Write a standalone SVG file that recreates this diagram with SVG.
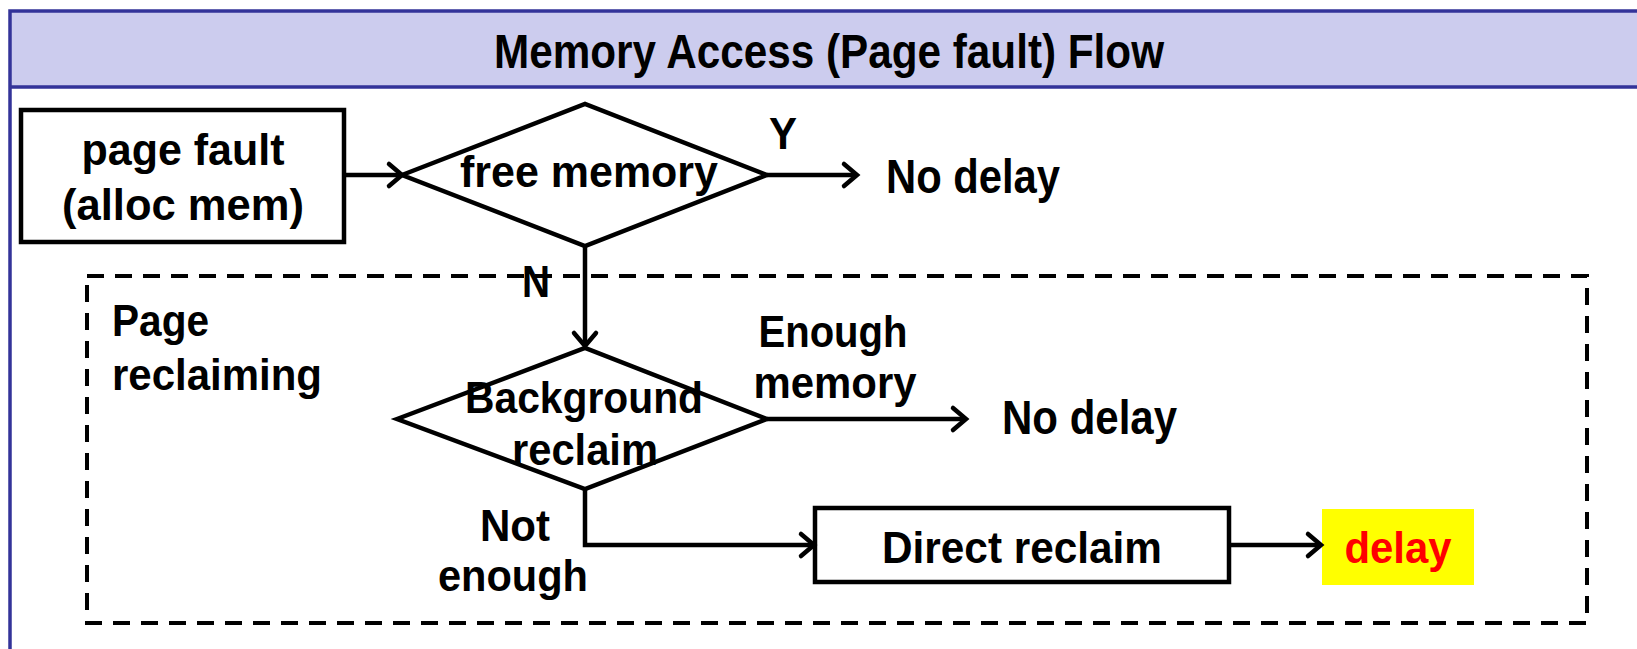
<svg xmlns="http://www.w3.org/2000/svg" width="1637" height="649" viewBox="0 0 1637 649">
<defs>
<style>
text{font-family:"Liberation Sans",Arial,sans-serif;font-weight:bold;fill:#000;}
.t{font-size:44px;}
.big{font-size:48px;}
.ln{fill:none;stroke:#000;stroke-width:4.5;stroke-linejoin:miter;}
.ah{fill:none;stroke:#000;stroke-width:4.5;stroke-linecap:round;stroke-linejoin:miter;}
</style>
</defs>
<rect width="1637" height="649" fill="#fff"/>
<g id="frame">
<rect x="10" y="11" width="1640" height="76" fill="#ccccee"/>
<path d="M10,649 V11 H1650 M10,87 H1650" fill="none" stroke="#333399" stroke-width="3.5"/>
<text class="big" x="829" y="68" text-anchor="middle" textLength="670" lengthAdjust="spacingAndGlyphs">Memory Access (Page fault) Flow</text>
</g>
<g id="page-reclaiming">
<rect x="87" y="276" width="1500" height="347" fill="none" stroke="#000" stroke-width="4" stroke-dasharray="17 11"/>
<text class="t" x="112" y="336" textLength="97" lengthAdjust="spacingAndGlyphs">Page</text>
<text class="t" x="112" y="390" textLength="210" lengthAdjust="spacingAndGlyphs">reclaiming</text>
</g>
<g id="page-fault">
<rect x="21" y="110" width="323" height="132" fill="#fff" stroke="#000" stroke-width="4.5"/>
<text class="t" x="183" y="165" text-anchor="middle" textLength="203" lengthAdjust="spacingAndGlyphs">page fault</text>
<text class="t" x="183" y="220" text-anchor="middle" textLength="242" lengthAdjust="spacingAndGlyphs">(alloc mem)</text>
</g>
<g id="free-memory">
<polygon points="402,175 585,104 767,175 585,246" fill="#fff" stroke="#000" stroke-width="4.5"/>
<text class="t" x="589" y="187" text-anchor="middle" textLength="258" lengthAdjust="spacingAndGlyphs">free memory</text>
</g>
<g id="no-delay-1">
<text class="big" x="886" y="193" textLength="174" lengthAdjust="spacingAndGlyphs">No delay</text>
</g>
<g id="background-reclaim">
<polygon points="397,419 585,348 767,419 585,489" fill="none" stroke="#000" stroke-width="4.5"/>
<text class="t" x="584" y="413" text-anchor="middle" textLength="238" lengthAdjust="spacingAndGlyphs">Background</text>
<text class="t" x="585" y="465" text-anchor="middle" textLength="146" lengthAdjust="spacingAndGlyphs">reclaim</text>
</g>
<g id="no-delay-2">
<text class="big" x="1002" y="434" textLength="175" lengthAdjust="spacingAndGlyphs">No delay</text>
</g>
<g id="direct-reclaim">
<rect x="815" y="508" width="414" height="74" fill="#fff" stroke="#000" stroke-width="4.5"/>
<text class="t" x="1022" y="563" text-anchor="middle" textLength="280" lengthAdjust="spacingAndGlyphs">Direct reclaim</text>
</g>
<g id="delay">
<rect x="1322" y="509" width="152" height="76" fill="#ffff00"/>
<text class="t" x="1398" y="563" text-anchor="middle" textLength="107" lengthAdjust="spacingAndGlyphs" style="fill:#ff0000">delay</text>
</g>
<g id="connectors">
<path class="ln" d="M344,175 H400"/>
<path class="ah" d="M389,164 L402,175 L389,186"/>
<path class="ln" d="M767,175 H855"/>
<path class="ah" d="M844,164 L857,175 L844,186"/>
<text class="t" x="783" y="149" text-anchor="middle" textLength="28" lengthAdjust="spacingAndGlyphs">Y</text>
<path class="ln" d="M585,246 V346"/>
<path class="ah" d="M574,333 L585,346 L596,333"/>
<text class="t" x="536" y="297" text-anchor="middle" textLength="28" lengthAdjust="spacingAndGlyphs">N</text>
<path class="ln" d="M767,419 H964"/>
<path class="ah" d="M953,408 L966,419 L953,430"/>
<text class="t" x="833" y="347" text-anchor="middle" textLength="149" lengthAdjust="spacingAndGlyphs">Enough</text>
<text class="t" x="835" y="398" text-anchor="middle" textLength="163" lengthAdjust="spacingAndGlyphs">memory</text>
<path class="ln" d="M585,489 V545 H812"/>
<path class="ah" d="M801,534 L814,545 L801,556"/>
<text class="t" x="515" y="541" text-anchor="middle" textLength="70" lengthAdjust="spacingAndGlyphs">Not</text>
<text class="t" x="513" y="591" text-anchor="middle" textLength="150" lengthAdjust="spacingAndGlyphs">enough</text>
<path class="ln" d="M1229,545 H1319"/>
<path class="ah" d="M1308,534 L1321,545 L1308,556"/>
</g>
</svg>
